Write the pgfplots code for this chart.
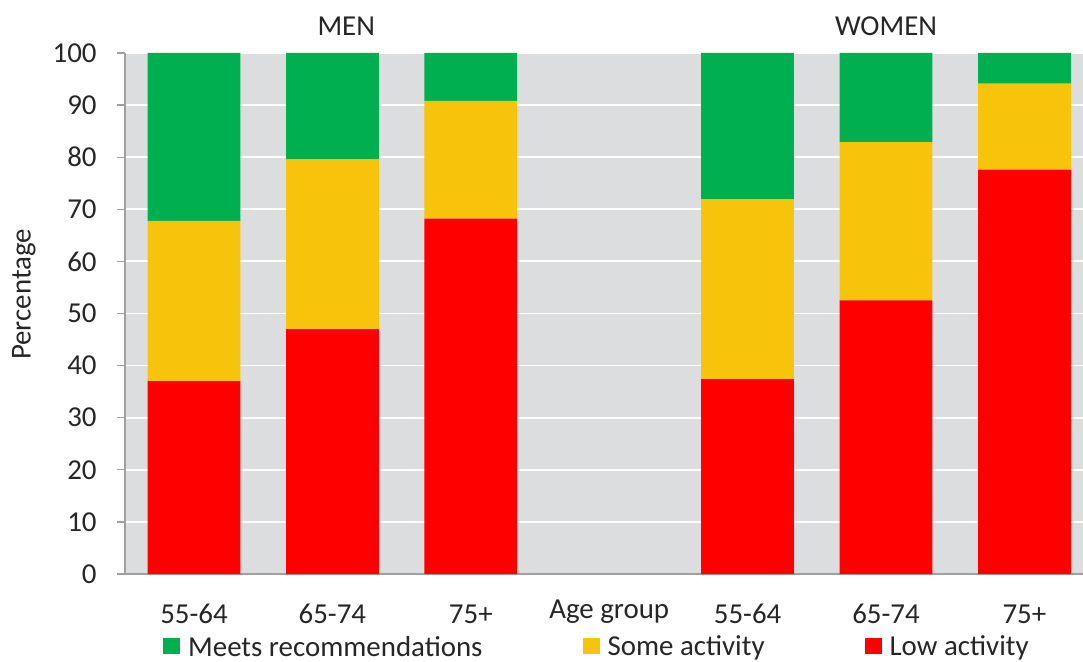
\documentclass[border=0pt]{standalone}
\usepackage{fontspec}
\setmainfont{Carlito}
\usepackage{pgfplots}
\pgfplotsset{compat=1.18}
\definecolor{meets}{HTML}{00B050}
\definecolor{some}{HTML}{F7C40B}
\definecolor{low}{HTML}{FF0000}
\definecolor{bg}{HTML}{DCDDDF}
\definecolor{axgray}{HTML}{A0A0A0}
\definecolor{txt}{HTML}{262626}

\begin{document}
\fontsize{29}{35}\selectfont
\begin{tikzpicture}
\begin{axis}[
    name=ax,
    width=968.8bp, height=521bp, scale only axis,
    ybar stacked, bar width=0.67,
    xmin=-0.5, xmax=6.5, ymin=0, ymax=100,
    ytick distance=10,
    xtick={0,1,2,4,5,6},
    xticklabels={55-64,65-74,75+,55-64,65-74,75+},
    extra x ticks={3},
    extra x tick labels={Age group},
    extra x tick style={tick label style={yshift=5bp}},
    x tick style={draw=none},
    y tick style={draw=axgray, line width=1.2bp},
    major tick length=8bp,
    tick align=outside,
    axis x line*=bottom, axis y line*=left,
    axis line style={draw=axgray, line width=1.5bp},
    axis background/.style={fill=bg},
    ymajorgrids, major grid style={draw=white, line width=1.8bp},
    tick label style={text=txt, font=\fontsize{29}{35}\selectfont, inner sep=0pt},
    /pgf/number format/assume math mode=true,
    xticklabel style={anchor=base, yshift=-41bp},
    yticklabel style={anchor=east, xshift=-20bp},
    clip=false,
    reverse legend,
    legend columns=3,
    legend style={at={(0.0394,-0.1185)}, anchor=north west, draw=none, fill=none,
        inner sep=0pt, nodes={inner sep=0pt},
        font=\fontsize{29}{35}\selectfont, text=txt,
        /tikz/every odd column/.append style={column sep=8bp},
        /tikz/every even column/.append style={column sep=100bp}},
    legend image code/.code={\fill[#1] (0bp,-6bp) rectangle (17bp,10bp);},
]
% stacked bottom to top: low, some, meets
\addplot[fill=low, draw=none] coordinates {(0,37.0) (1,47.0) (2,68.2) (4,37.4) (5,52.5) (6,77.6)};
\addplot[fill=some, draw=none] coordinates {(0,30.8) (1,32.6) (2,22.6) (4,34.5) (5,30.4) (6,16.5)};
\addplot[fill=meets, draw=none] coordinates {(0,32.2) (1,20.4) (2,9.2) (4,28.1) (5,17.1) (6,5.9)};
\legend{Low activity, Some activity, Meets recommendations}
\node[text=txt, anchor=base] at (axis cs:1.1,103.3) {MEN};
\node[text=txt, anchor=base] at (axis cs:5.0,103.3) {WOMEN};
\end{axis}
\node[text=txt, rotate=90, inner sep=0pt] at ([xshift=-101bp,yshift=19bp]ax.west) {Percentage};
\pgfresetboundingbox
\path[use as bounding box] ([xshift=-124.8bp,yshift=-88bp]ax.south west) rectangle ([xshift=958.2bp,yshift=53bp]ax.north west);
\end{tikzpicture}
\end{document}
